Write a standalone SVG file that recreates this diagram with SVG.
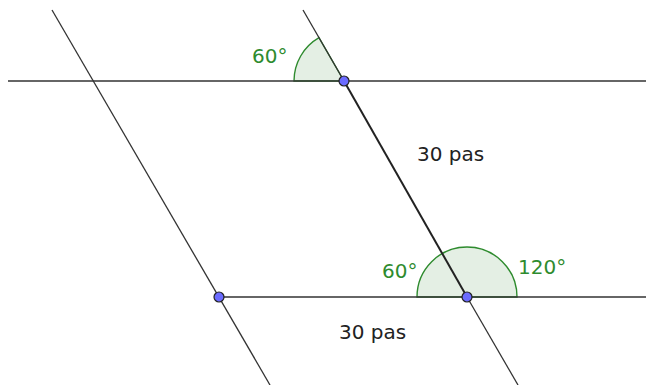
<svg xmlns="http://www.w3.org/2000/svg" width="646" height="385" viewBox="0 0 646 385">
<style>
.ln{stroke:#333;stroke-width:1.3;fill:none}
.seg{stroke:#222;stroke-width:2;fill:none}
.ang{fill:#e4efe4;stroke:#2e8b2e;stroke-width:1.4}
.at{font-family:"DejaVu Sans",sans-serif;font-size:20px;fill:#2e8b2e}
.lt{font-family:"DejaVu Sans",sans-serif;font-size:20px;fill:#222}
.pt{fill:#6b6bff;stroke:#222;stroke-width:1.2}
</style>
<rect width="646" height="385" fill="#fff"/>
<g id="angles">
<path class="ang" d="M344,81 L294,81 A50,50 0 0 1 319,37.7 Z"/>
<path class="ang" d="M467,297 L417,297 A50,50 0 0 1 517,297 Z"/>
</g>
<g id="connectors">
<line class="ln" x1="8" y1="81" x2="646" y2="81"/>
<line class="ln" x1="219" y1="297" x2="646" y2="297"/>
<line class="ln" x1="52" y1="10" x2="270" y2="385"/>
<line class="ln" x1="303" y1="10" x2="344" y2="81"/>
<line class="seg" x1="344" y1="81" x2="467" y2="297"/>
<line class="ln" x1="467" y1="297" x2="518" y2="385"/>
</g>
<g id="labels">
<text class="at" x="252" y="63">60°</text>
<text class="at" x="382" y="278">60°</text>
<text class="at" x="518" y="274">120°</text>
<text class="lt" x="417" y="161">30 pas</text>
<text class="lt" x="339" y="339">30 pas</text>
</g>
<g id="nodeA"><circle class="pt" cx="344" cy="81" r="5"/></g>
<g id="nodeB"><circle class="pt" cx="219" cy="297" r="5"/></g>
<g id="nodeC"><circle class="pt" cx="467" cy="297" r="5"/></g>
</svg>
